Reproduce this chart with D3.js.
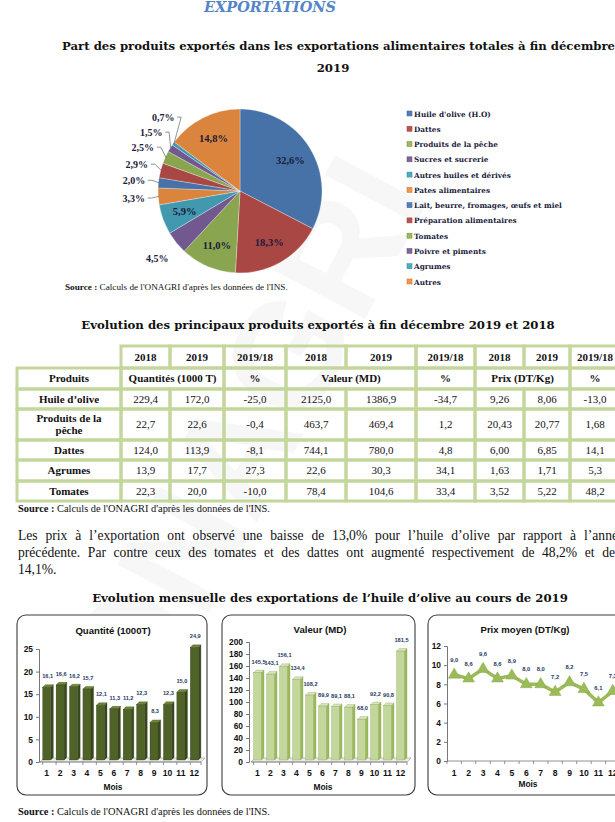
<!DOCTYPE html>
<html><head><meta charset="utf-8">
<script src="https://cdn.jsdelivr.net/npm/d3@7"></script>
<style>
html,body{margin:0;padding:0;background:#fff;overflow:hidden}
svg{display:block}
</style></head><body>
<svg id="page" width="615" height="822"></svg>
<script>
// ---------- DATA ----------
const pieCategories = ["Huile d'olive (H.O)","Dattes","Produits de la pêche","Sucres et sucrerie","Autres huiles et dérivés","Pates alimentaires","Lait, beurre, fromages, œufs et miel","Préparation alimentaires","Tomates","Poivre et piments","Agrumes","Autres"];
const pieShares = [32.6,18.3,11.0,4.5,5.9,3.3,2.0,2.9,2.5,1.5,0.7,14.8];
const pieInside = [true,true,true,false,true,false,false,false,false,false,false,true];

const tableProducts = ["Huile d’olive","Produits de la pêche","Dattes","Agrumes","Tomates"];
const qty2018 = [229.4,22.7,124.0,13.9,22.3];
const qty2019 = [172.0,22.6,113.9,17.7,20.0];
const qtyVar = [-25.0,-0.4,-8.1,27.3,-10.0];
const val2018 = [2125.0,463.7,744.1,22.6,78.4];
const val2019 = [1386.9,469.4,780.0,30.3,104.6];
const valVar = [-34.7,1.2,4.8,34.1,33.4];
const price2018 = [9.26,20.43,6.00,1.63,3.52];
const price2019 = [8.06,20.77,6.85,1.71,5.22];
const priceVar = ["-13,0","1,68","14,1","5,3","48,2"];
const tableYears = ["2018","2019","2019/18","2018","2019","2019/18","2018","2019","2019/18"];

const months = [1,2,3,4,5,6,7,8,9,10,11,12];
const monthlyQty = [16.1,16.6,16.2,15.7,12.1,11.3,11.2,12.3,8.3,12.3,15.0,24.9];
const monthlyVal = [145.5,143.1,156.1,134.4,108.2,89.9,89.1,88.1,68.0,92.2,90.8,181.5];
const monthlyPrice = [9.0,8.6,9.6,8.6,8.9,8.0,8.0,7.2,8.2,7.5,6.1,7.3];
const qtyTicks = [0,5,10,15,20,25];
const valTicks = [0,20,40,60,80,100,120,140,160,180,200];
const priceTicks = [0,2,4,6,8,10,12];

// ---------- SETUP ----------
const fr = d3.formatLocale({decimal:",",thousands:"",grouping:[3],currency:["",""],minus:"-"});
const f1 = fr.format(".1f"), f2 = fr.format(".2f");
const SERIF = "'Liberation Serif','DejaVu Serif',serif";
const WSERIF = "'DejaVu Serif','Liberation Serif',serif";
const SANS = "'Liberation Sans',Arial,sans-serif";
const INK = "#1b1b3a";
const svg = d3.select("#page");
const defs = svg.append("defs");

// watermark
svg.append("text").attr("transform","translate(290,460) rotate(-62)")
  .attr("text-anchor","middle").attr("font-family",SANS).attr("font-weight","bold")
  .attr("font-size",150).attr("fill","#f7f7f7").text("ONAGRI");

// titles
svg.append("text").attr("x",270).attr("y",12).attr("text-anchor","middle")
  .attr("font-family",WSERIF).attr("font-style","italic").attr("font-weight","bold")
  .attr("font-size",14.5).attr("fill","#5585c8").text("EXPORTATIONS");
function title(t,x,y,anchor){
  svg.append("text").attr("x",x).attr("y",y).attr("text-anchor",anchor||"middle")
    .attr("font-family",WSERIF).attr("font-weight","bold").attr("font-size",11.7).attr("fill","#111").text(t);
}
title("Part des produits exportés dans les exportations alimentaires totales à fin décembre",62,50,"start");
title("2019",333,72);
title("Evolution des principaux produits exportés à fin décembre 2019 et 2018",318,329);
title("Evolution mensuelle des exportations de l’huile d’olive au cours de 2019",330,602);

function source(x,y,fs){
  const t = svg.append("text").attr("x",x).attr("y",y).attr("font-family",SERIF).attr("font-size",fs).attr("fill","#111");
  t.append("tspan").attr("font-weight","bold").text("Source : ");
  t.append("tspan").text("Calculs de l'ONAGRI  d'après les données de l'INS.");
}
source(65,290,9.2); source(18,512,10.4); source(18,815,10.4);

// ---------- PIE ----------
const baseColors = ["#4F81BD","#C0504D","#9BBB59","#8064A2","#4BACC6","#F79646"];
const color = d3.scaleOrdinal().domain(pieCategories).range(baseColors);
const cx = 240, cy = 191, R = 82;
baseColors.forEach((c,i)=>{
  const g = defs.append("radialGradient").attr("id","pg"+i).attr("gradientUnits","userSpaceOnUse")
    .attr("cx",cx).attr("cy",cy).attr("r",R).attr("fx",cx-10).attr("fy",cy-15);
  g.append("stop").attr("offset","0%").attr("stop-color",d3.color(c).brighter(0.25));
  g.append("stop").attr("offset","88%").attr("stop-color",c);
  g.append("stop").attr("offset","100%").attr("stop-color",d3.color(c).darker(0.35));
});
const pie = d3.pie().sort(null).value(d=>d.v);
const pieData = pie(pieCategories.map((c,i)=>({c,v:pieShares[i],inside:pieInside[i],i})));
const arc = d3.arc().innerRadius(0).outerRadius(R);
const gp = svg.append("g").attr("transform",`translate(${cx},${cy})`);
gp.selectAll("path").data(pieData).join("path").attr("d",arc)
  .attr("fill",d=>`url(#pg${baseColors.indexOf(color(d.data.c))})`)
  .attr("stroke","#ffffff").attr("stroke-opacity",0.5).attr("stroke-width",0.6);
const inArc = d3.arc().innerRadius(R*0.72).outerRadius(R*0.72);
const pct = v=>f1(v)+"%";
gp.selectAll("text.in").data(pieData.filter(d=>d.data.inside)).join("text")
  .attr("transform",d=>`translate(${inArc.centroid(d)})`).attr("dy","0.35em").attr("text-anchor","middle")
  .attr("font-family",SERIF).attr("font-weight","bold").attr("font-size",10.5).attr("fill",INK)
  .text(d=>pct(d.data.v));
// outside labels with collision spacing
const outs = pieData.filter(d=>!d.data.inside).map(d=>{
  const a = (d.startAngle+d.endAngle)/2;
  return {d,a,y:-R*1.3*Math.cos(a)};
}).sort((p,q)=>q.y-p.y);
for(let i=1;i<outs.length;i++){ if(outs[i-1].y - outs[i].y < 15 && outs[i].a>Math.PI*1.1) outs[i].y = outs[i-1].y-15; }
outs.forEach(o=>{
  const r = R*1.3;
  const dy = Math.max(-r,Math.min(r,o.y));
  o.x = Math.sin(o.a)<0 ? -Math.sqrt(r*r-dy*dy) : Math.sqrt(r*r-dy*dy);
  o.px = R*Math.sin(o.a); o.py = -R*Math.cos(o.a);
});
gp.selectAll("polyline.lead").data(outs.filter(o=>o.d.data.v<4)).join("polyline")
  .attr("points",o=>`${o.x+14},${o.y} ${o.x+18},${o.y} ${o.px*0.99},${o.py*0.99}`)
  .attr("fill","none").attr("stroke","#666").attr("stroke-width",0.7);
gp.selectAll("text.out").data(outs).join("text")
  .attr("x",o=>o.x).attr("y",o=>o.y).attr("dy","0.35em").attr("text-anchor","middle")
  .attr("font-family",SERIF).attr("font-weight","bold").attr("font-size",10).attr("fill",INK)
  .text(o=>pct(o.d.data.v));

// legend
const ly = d3.scalePoint().domain(pieCategories).range([114,282]);
const lg = svg.append("g");
pieCategories.forEach(c=>{
  lg.append("rect").attr("x",407).attr("y",ly(c)-3).attr("width",5).attr("height",5)
    .attr("fill",color(c)).attr("stroke",d3.color(color(c)).darker(0.8)).attr("stroke-width",0.5);
  lg.append("text").attr("x",414).attr("y",ly(c)).attr("dy","0.35em")
    .attr("font-family",WSERIF).attr("font-weight","bold").attr("font-size",7.3).attr("fill",INK).text(c);
});

// ---------- TABLE ----------
const colX = [17,121,170,224,286,346,416,475,524,570,620];
const rowY = [346,368,389,409,440,460,481,501];
const tb = svg.append("g");
const BC = "#C3D69B";
function cell(c0,c1,r,txt,bold){
  tb.append("rect").attr("x",colX[c0]).attr("y",rowY[r]).attr("width",colX[c1]-colX[c0]).attr("height",rowY[r+1]-rowY[r])
    .attr("fill","none").attr("stroke",BC).attr("stroke-width",3);
  if(txt===undefined) return;
  const lines = Array.isArray(txt)?txt:[txt];
  const mid = (rowY[r]+rowY[r+1])/2, xm=(colX[c0]+colX[c1])/2;
  lines.forEach((l,k)=>{
    tb.append("text").attr("x",xm).attr("y",mid+(k-(lines.length-1)/2)*12).attr("dy","0.35em")
      .attr("text-anchor","middle").attr("font-family",SERIF).attr("font-size",11)
      .attr("font-weight",bold?"bold":"normal").attr("fill","#111").text(l);
  });
}
tableYears.forEach((y,i)=>cell(i+1,i+2,0,y,true));
cell(0,1,1,"Produits",true);
cell(1,3,1,"Quantités (1000 T)",true);
cell(3,4,1,"%",true);
cell(4,6,1,"Valeur (MD)",true);
cell(6,7,1,"%",true);
cell(7,9,1,"Prix (DT/Kg)",true);
cell(9,10,1,"%",true);
tableProducts.forEach((p,i)=>{
  const r=i+2;
  cell(0,1,r,p==="Produits de la pêche"?["Produits de la","pêche"]:p,true);
  const vals=[f1(qty2018[i]),f1(qty2019[i]),f1(qtyVar[i]),f1(val2018[i]),f1(val2019[i]),f1(valVar[i]),f2(price2018[i]),f2(price2019[i]),priceVar[i]];
  vals.forEach((v,j)=>cell(j+1,j+2,r,v,false));
});

// ---------- PARAGRAPH (justified via word spacing) ----------
const para = ["Les prix à l’exportation ont observé une baisse de 13,0% pour l’huile d’olive par rapport à l’année",
 "précédente. Par contre ceux des tomates et des dattes ont augmenté respectivement de 48,2% et de",
 "14,1%."];
const paraW = [606,597,null];
para.forEach((l,i)=>{
  const t = svg.append("text").attr("x",18).attr("y",540+i*17).attr("font-family",SERIF).attr("font-size",13.6).attr("fill","#111").text(l);
  if(paraW[i]){
    const nat = t.node().getComputedTextLength();
    const spaces = (l.match(/ /g)||[]).length;
    t.attr("word-spacing",Math.max(0,(paraW[i]-nat)/spaces));
  }
});

// ---------- SMALL CHARTS ----------
function box(x,y,w,h){
  svg.append("rect").attr("x",x).attr("y",y).attr("width",w).attr("height",h).attr("rx",9)
    .attr("fill","#fff").attr("stroke","#3a3a3a").attr("stroke-width",1.1);
}
box(17,615,190,180); box(222,615,193,180); box(428,615,200,180);

function smallTitle(t,x,y){
  svg.append("text").attr("x",x).attr("y",y).attr("text-anchor","middle").attr("font-family",SANS)
    .attr("font-weight","bold").attr("font-size",9.6).attr("fill","#111").text(t);
}
function yAxis(y,x,ticks){
  const g = svg.append("g").attr("transform",`translate(${x},0)`)
    .call(d3.axisLeft(y).tickValues(ticks).tickSize(3).tickFormat(d3.format("d")));
  g.select(".domain").attr("stroke","#777");
  g.selectAll(".tick line").attr("stroke","#777");
  g.selectAll("text").attr("font-family",SANS).attr("font-weight","bold").attr("font-size",8.4).attr("fill","#111");
  return g;
}
function xLabels(x,y0,labY,mx,mlabY){
  const g = svg.append("g");
  months.forEach(m=>{
    g.append("text").attr("x",x(m)+x.bandwidth()/2).attr("y",labY).attr("text-anchor","middle")
      .attr("font-family",SANS).attr("font-weight","bold").attr("font-size",8.6).attr("fill","#111").text(m);
  });
  const [a,b] = x.range();
  const edges = months.map(m=>x(m)).concat([b]);
  edges.forEach(e=>g.append("line").attr("x1",e).attr("x2",e).attr("y1",y0).attr("y2",y0+3).attr("stroke","#777").attr("stroke-width",0.8));
  g.append("line").attr("x1",a).attr("x2",b).attr("y1",y0).attr("y2",y0).attr("stroke","#777").attr("stroke-width",0.8);
  g.append("text").attr("x",mx).attr("y",mlabY).attr("text-anchor","middle").attr("font-family",SANS)
    .attr("font-weight","bold").attr("font-size",8.4).attr("fill","#111").text("Mois");
}
function floor(x,y0,d){
  const [a,b]=x.range();
  svg.append("polygon").attr("points",`${a},${y0} ${b},${y0} ${b+d},${y0-d} ${a+d},${y0-d}`)
    .attr("fill","#ececec").attr("stroke","#9a9a9a").attr("stroke-width",0.6);
}
function bars3d(x,y,vals,front,side,top,stroke){
  const d=2.6, g=svg.append("g");
  const w = x.bandwidth();
  vals.forEach((v,i)=>{
    const bx = x(months[i]), by = y(v), y0 = y(0), h = y0-by;
    g.append("polygon").attr("points",`${bx+w},${by} ${bx+w+d},${by-d} ${bx+w+d},${y0-d} ${bx+w},${y0}`).attr("fill",side).attr("stroke",stroke).attr("stroke-width",0.3);
    g.append("polygon").attr("points",`${bx},${by} ${bx+d},${by-d} ${bx+w+d},${by-d} ${bx+w},${by}`).attr("fill",top).attr("stroke",stroke).attr("stroke-width",0.3);
    g.append("rect").attr("x",bx).attr("y",by).attr("width",w).attr("height",h).attr("fill",front).attr("stroke",stroke).attr("stroke-width",0.3);
  });
}
function valueLabels(x,y,vals,off,fmt){
  svg.append("g").selectAll("text").data(vals).join("text")
    .attr("x",(v,i)=>x(months[i])+x.bandwidth()/2+1).attr("y",v=>y(v)-off).attr("text-anchor","middle")
    .attr("font-family",SANS).attr("font-weight","bold").attr("font-size",5.6).attr("fill","#1F3864").text(fmt);
}

// Chart 1: Quantité
{
  const x = d3.scaleBand().domain(months).range([40,201]).paddingInner(0.4).paddingOuter(0.2);
  const y = d3.scaleLinear().domain([0,25]).range([762,649]);
  smallTitle("Quantité (1000T)",113,634);
  yAxis(y,39,qtyTicks);
  floor(x,762,4);
  xLabels(x,762,776,113,790);
  bars3d(x,d3.scaleLinear().domain([0,25]).range([760,647]),monthlyQty,"#4F6228","#3a481c","#6f8a38","#2e3a14");
  valueLabels(x,y,monthlyQty,11,v=>f1(v));
}
// Chart 2: Valeur
{
  const x = d3.scaleBand().domain(months).range([251,407]).paddingInner(0.4).paddingOuter(0.2);
  const y = d3.scaleLinear().domain([0,200]).range([762,642]);
  smallTitle("Valeur (MD)",320,633);
  yAxis(y,249,valTicks);
  floor(x,762,4);
  xLabels(x,762,776,323,790);
  bars3d(x,d3.scaleLinear().domain([0,200]).range([760,640]),monthlyVal,"#C3D69B","#9BBB59","#D7E4BD","#7f9a48");
  valueLabels(x,y,monthlyVal,11,v=>f1(v));
}
// Chart 3: Prix moyen
{
  const x = d3.scaleBand().domain(months).range([447,620]);
  const y = d3.scaleLinear().domain([0,12]).range([761,646]);
  smallTitle("Prix moyen (DT/Kg)",525,633);
  yAxis(y,447,priceTicks);
  xLabels(x,761,776,528,787);
  const line = d3.line().x((v,i)=>x(months[i])+x.bandwidth()/2).y(v=>y(v));
  svg.append("path").attr("d",line(monthlyPrice)).attr("fill","none").attr("stroke","#9BBB59").attr("stroke-width",3.5).attr("stroke-linejoin","round");
  svg.append("g").selectAll("path").data(monthlyPrice).join("path")
    .attr("d",d3.symbol().type(d3.symbolTriangle).size(60))
    .attr("transform",(v,i)=>`translate(${x(months[i])+x.bandwidth()/2},${y(v)})`)
    .attr("fill","#9BBB59").attr("stroke","#8aab4a").attr("stroke-width",0.5);
  svg.append("g").selectAll("text").data(monthlyPrice).join("text")
    .attr("x",(v,i)=>x(months[i])+x.bandwidth()/2).attr("y",v=>y(v)-13).attr("text-anchor","middle")
    .attr("font-family",SANS).attr("font-weight","bold").attr("font-size",5.8).attr("fill","#1F3864").text(v=>f1(v));
}
</script></body></html>
